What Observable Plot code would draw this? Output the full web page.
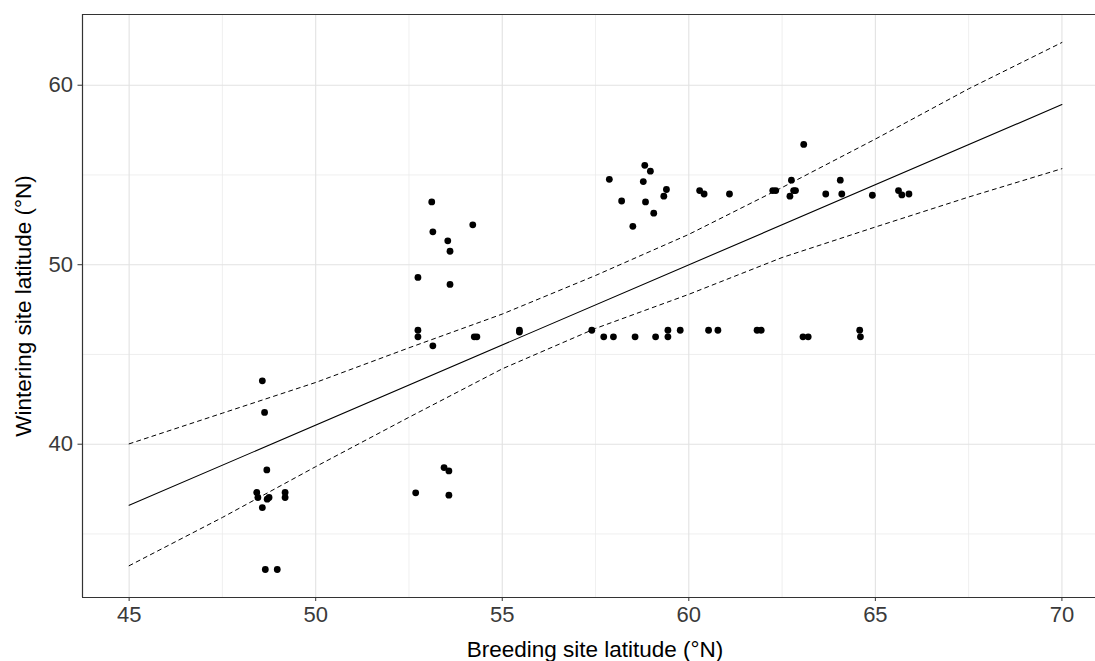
<!DOCTYPE html>
<html>
<head>
<meta charset="utf-8">
<script src="https://cdn.jsdelivr.net/npm/d3@7"></script>
<script src="https://cdn.jsdelivr.net/npm/@observablehq/plot@0.6"></script>
<style>
  html, body { margin: 0; padding: 0; background: white; overflow: hidden; }
</style>
</head>
<body>
<div id="chart"></div>
<script>
// Observed breeding vs wintering latitudes
const breedLat = [
  48.57, 48.63, 48.69, 48.42, 48.45, 48.70, 48.75, 49.18, 49.18, 48.57, 48.65, 48.97,
  53.11, 53.14, 54.21, 53.54, 53.60, 52.74, 53.60, 52.74, 52.74, 53.14, 54.25, 54.32, 55.46, 55.46,
  53.44, 53.57, 52.68, 53.57,
  58.82, 58.97, 57.87, 58.78, 59.40, 59.33, 60.29, 60.41, 61.09, 58.20, 58.84, 59.06, 58.50,
  63.08, 62.75, 64.06, 62.25, 62.33, 62.81, 62.86, 62.71, 63.67, 64.10, 64.92, 65.62, 65.71, 65.90,
  57.40, 57.72, 57.98, 58.56, 59.11, 59.44, 59.44, 59.77, 60.53, 60.78, 61.83, 61.94, 63.06, 63.20, 64.58, 64.60
];
const winterLat = [
  43.53, 41.77, 38.57, 37.31, 37.03, 36.94, 37.03, 37.31, 37.03, 36.47, 33.02, 33.02,
  53.50, 51.83, 52.22, 51.33, 50.75, 49.29, 48.90, 46.35, 45.98, 45.48, 45.98, 45.98, 46.35, 46.25,
  38.70, 38.51, 37.29, 37.16,
  55.54, 55.21, 54.76, 54.63, 54.19, 53.82, 54.13, 53.94, 53.94, 53.55, 53.50, 52.87, 52.14,
  56.70, 54.71, 54.71, 54.13, 54.13, 54.13, 54.13, 53.82, 53.94, 53.94, 53.87, 54.13, 53.89, 53.94,
  46.35, 45.98, 45.98, 45.98, 45.98, 46.35, 45.98, 46.35, 46.35, 46.35, 46.35, 46.35, 45.98, 45.98, 46.35, 45.98
];

// Fitted regression line (endpoints)
const fitX = [45, 70];
const fitY = [36.6, 58.92];

// Confidence band
const bandX = [45, 47.5, 50, 52.5, 55, 57.5, 60, 62.5, 65, 67.5, 70];
const bandUpper = [40.02, 41.73, 43.44, 45.37, 47.25, 49.4, 51.69, 54.3, 57.0, 59.8, 62.38];
const bandLower = [33.23, 35.92, 38.75, 41.5, 44.2, 46.45, 48.35, 50.4, 52.1, 53.77, 55.35];

// Axis ticks
const xTicks = [45, 50, 55, 60, 65, 70];
const xMinor = [47.5, 52.5, 57.5, 62.5, 67.5];
const yTicks = [40, 50, 60];
const yMinor = [35, 45, 55];

const xLabel = "Breeding site latitude (°N)";
const yLabel = "Wintering site latitude (°N)";

const xDomain = [43.75, 70.9];
const yDomain = [31.46, 63.94];

const points = breedLat.map((b, i) => ({b, w: winterLat[i]}));
const fit = fitX.map((x, i) => ({x, y: fitY[i]}));
const upper = bandX.map((x, i) => ({x, y: bandUpper[i]}));
const lower = bandX.map((x, i) => ({x, y: bandLower[i]}));

const chart = Plot.plot({
  width: 1095,
  height: 661,
  marginTop: 14,
  marginLeft: 82,
  marginRight: 0,
  marginBottom: 64,
  style: {fontFamily: "'Liberation Sans', Arial, Helvetica, sans-serif", background: "white"},
  x: {domain: xDomain},
  y: {domain: yDomain},
  marks: [
    Plot.ruleX(xMinor, {stroke: "#ebebeb", strokeWidth: 0.8}),
    Plot.ruleY(yMinor, {stroke: "#ebebeb", strokeWidth: 0.8}),
    Plot.ruleX(xTicks, {stroke: "#e2e2e2", strokeWidth: 1.1}),
    Plot.ruleY(yTicks, {stroke: "#e2e2e2", strokeWidth: 1.1}),
    Plot.line(upper, {x: "x", y: "y", stroke: "black", strokeWidth: 1, strokeDasharray: "4,4"}),
    Plot.line(lower, {x: "x", y: "y", stroke: "black", strokeWidth: 1, strokeDasharray: "4,4"}),
    Plot.line(fit, {x: "x", y: "y", stroke: "black", strokeWidth: 1.1}),
    Plot.dot(points, {x: "b", y: "w", r: 3.4, fill: "black", stroke: "none"}),
    Plot.ruleY([yDomain[1]], {stroke: "#333", strokeWidth: 1.2}),
    Plot.ruleY([yDomain[0]], {stroke: "#333", strokeWidth: 1.2}),
    Plot.ruleX([xDomain[0]], {stroke: "#333", strokeWidth: 1.2}),
    Plot.axisX({ticks: xTicks, tickSize: 4, tickPadding: 5, fontSize: 22, stroke: "#333", fill: "#3a3a3a", label: null}),
    Plot.axisY({ticks: yTicks, tickSize: 4.5, tickPadding: 5, fontSize: 22, stroke: "#333", fill: "#3a3a3a", label: null}),
    Plot.text([xLabel], {text: d => d, frameAnchor: "bottom", textAnchor: "middle", dx: 6, dy: 52, fontSize: 22.5, fill: "black", lineAnchor: "middle"}),
    Plot.text([yLabel], {text: d => d, frameAnchor: "left", textAnchor: "middle", dx: -59, rotate: -90, fontSize: 22.5, fill: "black", lineAnchor: "middle"})
  ]
});
document.getElementById("chart").append(chart);
</script>
</body>
</html>
